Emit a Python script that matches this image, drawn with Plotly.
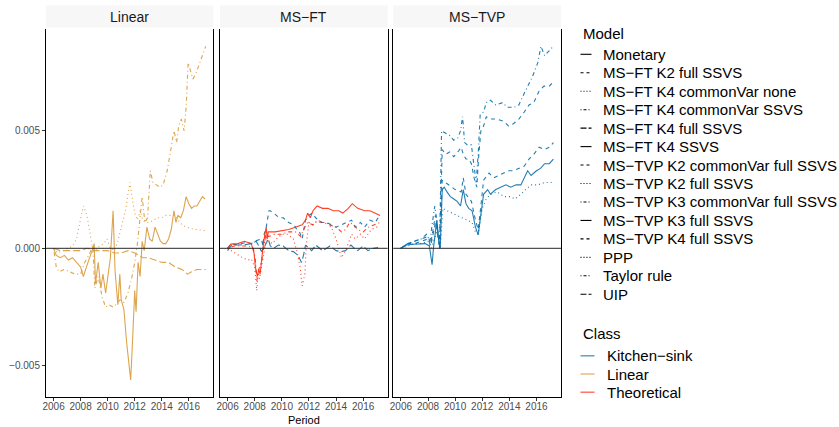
import plotly.graph_objects as go

W, H = 839, 427
FONT = "Liberation Sans, Arial, Helvetica, sans-serif"

PANELS = ["Linear", "MS−FT", "MS−TVP"]
MODELS = ["Monetary", "MS−FT K2 full SSVS", "MS−FT K4 commonVar none",
          "MS−FT K4 commonVar SSVS", "MS−FT K4 full SSVS", "MS−FT K4 SSVS",
          "MS−TVP K2 commonVar full SSVS", "MS−TVP K2 full SSVS",
          "MS−TVP K3 commonVar full SSVS", "MS−TVP K3 full SSVS",
          "MS−TVP K4 full SSVS", "PPP", "Taylor rule", "UIP"]
MODEL_LINETYPES = ["solid", "dashed", "dotted", "dotdash", "longdash", "solid",
                   "dashed", "dotted", "dotdash", "solid", "dashed", "dotted",
                   "dotdash", "longdash"]
CLASSES = ["Kitchen−sink", "Linear", "Theoretical"]
CLASS_COLORS = ["#0A6FA8", "#DA9A3A", "#FF2A10"]
YEAR_TICKS = [2006, 2008, 2010, 2012, 2014, 2016]
Y_TICKS = [-0.005, 0.0, 0.005]
Y_TICK_TEXT = ["−0.005", "0.000", "0.005"]

# ---------------- Linear panel ----------------
lin_monetary_t = [2006.0, 2006.2, 2006.5, 2006.8, 2007.1, 2007.4, 2007.7, 2008.0, 2008.2, 2008.4,
                  2008.6, 2008.85, 2009.0, 2009.1, 2009.3, 2009.5, 2009.65, 2009.85, 2010.0, 2010.2,
                  2010.4, 2010.55, 2010.75, 2010.9, 2011.0, 2011.2, 2011.4, 2011.55, 2011.7, 2011.85,
                  2012.0, 2012.1, 2012.25, 2012.4, 2012.55, 2012.7, 2012.9, 2013.1, 2013.3, 2013.5,
                  2013.7, 2013.9, 2014.1, 2014.3, 2014.5, 2014.7, 2014.9, 2015.05, 2015.2, 2015.4,
                  2015.6, 2015.8, 2016.0, 2016.2, 2016.4, 2016.6, 2016.8, 2017.0, 2017.2]
lin_monetary_v = [0.0, -0.0003, -0.0004, -0.0003, -0.0005, -0.0004, -0.0006, -0.0008, -0.0012, -0.0008,
                  -0.0005, -0.0001, 0.0002, -0.0015, -0.0006, -0.0017, -0.0011, -0.0019, -0.0012, -0.0004,
                  0.0016, -0.0010, -0.0024, -0.0011, -0.0022, -0.0026, -0.0040, -0.0048, -0.0056, -0.0038,
                  -0.0018, -0.0027, -0.0006, -0.0012, 0.0003, -0.0001, 0.0009, 0.0004, 0.0003, 0.0009,
                  0.0006, 0.0003, 0.0002, 0.0002, 0.0004, 0.0008, 0.0016, 0.0011, 0.0014, 0.0013,
                  0.0016, 0.0022, 0.0019, 0.0017, 0.0018, 0.0018, 0.0020, 0.0022, 0.0021]

lin_ppp_t = [2006.0, 2006.3, 2006.7, 2007.0, 2007.4, 2007.7, 2007.9, 2008.05, 2008.2, 2008.35,
             2008.5, 2008.65, 2008.85, 2009.1, 2009.4, 2009.7, 2009.95, 2010.2, 2010.5, 2010.75,
             2010.95, 2011.15, 2011.35, 2011.5, 2011.65, 2011.8, 2012.0, 2012.2, 2012.4, 2012.6,
             2012.8, 2013.1, 2013.4, 2013.7, 2014.0, 2014.3, 2014.6, 2015.0, 2015.2, 2015.5,
             2015.8, 2016.1, 2016.5, 2016.9, 2017.2]
lin_ppp_v = [0.0, -0.0002, -0.0001, 0.0, 0.0001, 0.0004, 0.0009, 0.0014, 0.0018, 0.0016,
             0.0013, 0.0008, 0.0001, -0.0001, 0.0001, 0.0002, 0.0004, 0.0, -0.0001, 0.0003,
             0.0008, 0.0012, 0.0017, 0.0023, 0.0028, 0.0022, 0.0015, 0.0012, 0.0016, 0.0012,
             0.0011, 0.0011, 0.0012, 0.0013, 0.0013, 0.0014, 0.0014, 0.0014, 0.0012, 0.0010,
             0.0009, 0.00085, 0.0008, 0.00078, 0.00075]

lin_taylor_t = [2006.0, 2006.2, 2006.4, 2006.8, 2007.2, 2007.6, 2008.0, 2008.3, 2008.6, 2008.9,
                2009.05, 2009.3, 2009.6, 2009.85, 2010.1, 2010.4, 2010.6, 2010.9, 2011.2, 2011.5,
                2011.8, 2012.0, 2012.2, 2012.4, 2012.55, 2012.75, 2012.95, 2013.15, 2013.35, 2013.6,
                2013.85, 2014.1, 2014.4, 2014.7, 2014.9, 2015.1, 2015.25, 2015.45, 2015.65, 2015.8,
                2015.95, 2016.1, 2016.3, 2016.5, 2016.7, 2016.9, 2017.1, 2017.25]
lin_taylor_v = [0.0, -0.0008, -0.0010, -0.0009, -0.0010, -0.0011, -0.0011, -0.0006, -0.0003, 0.0001,
                -0.0017, -0.0012, -0.0021, -0.0025, -0.0024, -0.0025, -0.0024, -0.0022, -0.0023, -0.0019,
                -0.0012, -0.0006, 0.0002, 0.0014, 0.0022, 0.0011, 0.0013, 0.0033, 0.0028, 0.0027,
                0.0026, 0.0027, 0.0033, 0.0043, 0.0050, 0.0045, 0.0052, 0.0055, 0.0050, 0.0060,
                0.0079, 0.0076, 0.0072, 0.0074, 0.0077, 0.0080, 0.0083, 0.0086]

lin_uip_t = [2006.0, 2006.5, 2007.0, 2007.5, 2008.0, 2008.5, 2009.0, 2009.5, 2010.0, 2010.5,
             2011.0, 2011.5, 2012.0, 2012.3, 2012.6, 2013.0, 2013.5, 2014.0, 2014.5, 2015.0,
             2015.5, 2015.9, 2016.2, 2016.6, 2017.0, 2017.25]
lin_uip_v = [0.0, -0.0001, -0.0001, -0.0001, -0.0001, 0.0, -0.0001, -0.0001, -0.0001, -0.0002,
             -0.0002, -0.0001, -0.0002, -0.0003, -0.0004, -0.0004, -0.0005, -0.0006, -0.0006, -0.0008,
             -0.0009, -0.0011, -0.0010, -0.0009, -0.0009, -0.0009]

# ---------------- MS-FT panel ----------------
ft_k4ssvs_t = [2006.0, 2006.25, 2006.75, 2007.25, 2007.5, 2007.75, 2007.95, 2008.05, 2008.2, 2008.3,
               2008.4, 2008.5, 2008.6, 2008.75, 2008.85, 2008.92, 2009.0, 2009.5, 2010.0, 2010.5,
               2011.0, 2011.5, 2011.75, 2011.9, 2012.1, 2012.3, 2012.6, 2013.0, 2013.4, 2013.8,
               2014.2, 2014.5, 2014.9, 2015.2, 2015.6, 2016.1, 2016.5, 2016.9, 2017.25]
ft_k4ssvs_v = [0.0, 0.00018, 0.0002, 0.0003, 0.00025, 0.0002, -0.0002, -0.0008, -0.0012, -0.0009,
               -0.0011, -0.0005, 0.0, 0.0006, 0.0009, 0.0004, 0.0007, 0.0007, 0.00075, 0.0008,
               0.0009, 0.0010, 0.0012, 0.0015, 0.0013, 0.0016, 0.0018, 0.0017, 0.0017, 0.0016,
               0.0016, 0.0015, 0.0017, 0.0019, 0.0017, 0.0016, 0.0016, 0.0015, 0.0014]

ft_k4cvnone_t = [2006.0, 2006.4, 2006.75, 2007.1, 2007.5, 2007.75, 2008.0, 2008.15, 2008.25, 2008.35,
                 2008.5, 2008.6, 2008.75, 2008.85, 2009.0, 2009.3, 2009.6, 2010.0, 2010.4, 2010.85,
                 2011.1, 2011.35, 2011.5, 2011.7, 2011.8, 2012.0, 2012.25, 2012.5, 2012.9, 2013.3,
                 2013.65, 2014.0, 2014.4, 2014.65, 2014.9, 2015.15, 2015.4, 2015.8, 2016.1, 2016.35,
                 2016.6, 2017.0, 2017.25]
ft_k4cvnone_v = [0.0, -0.00014, -0.0003, -0.0004, -0.0005, -0.00045, -0.0008, -0.0018, -0.0011, -0.0013,
                 -0.0008, -0.0005, 0.0, 0.0005, 0.0003, 0.0002, 0.0004, 0.0006, 0.0006, 0.0004,
                 -0.0001, -0.0008, -0.0016, -0.0011, 0.0001, 0.0011, 0.0010, 0.0011, 0.0011, 0.0011,
                 0.0009, 0.0004, -0.0004, -0.00014, 0.0002, 0.0006, 0.0004, 0.0006, 0.0004, 0.0006,
                 0.0008, 0.0009, 0.0009]

ft_k4cvssvs_t = [2006.0, 2006.5, 2007.0, 2007.5, 2007.9, 2008.05, 2008.15, 2008.3, 2008.5, 2008.7,
                 2008.85, 2009.0, 2009.5, 2010.0, 2010.5, 2011.0, 2011.4, 2011.6, 2011.9, 2012.3,
                 2012.6, 2013.0, 2013.5, 2014.0, 2014.4, 2014.7, 2015.0, 2015.3, 2015.6, 2016.0,
                 2016.4, 2016.8, 2017.25]
ft_k4cvssvs_v = [0.0, 0.0001, 0.0001, 0.0001, 0.0, -0.0005, -0.0014, -0.0009, -0.0006, 0.0002,
                 0.0007, 0.0005, 0.0006, 0.0006, 0.0007, 0.0007, 0.0005, 0.0008, 0.0011, 0.0010,
                 0.0012, 0.0011, 0.0010, 0.0009, 0.0007, 0.0008, 0.0011, 0.0010, 0.0008, 0.0007,
                 0.0009, 0.0010, 0.0011]

ft_k2full_t = [2006.0, 2006.25, 2006.6, 2007.0, 2007.4, 2007.75, 2008.0, 2008.25, 2008.5, 2008.6,
               2008.7, 2008.85, 2009.05, 2009.15, 2009.4, 2009.8, 2010.1, 2010.5, 2010.9, 2011.1,
               2011.3, 2011.5, 2011.75, 2012.0, 2012.25, 2012.5, 2012.9, 2013.3, 2013.65, 2014.0,
               2014.4, 2014.75, 2015.15, 2015.4, 2015.8, 2016.1, 2016.5, 2016.9, 2017.1]
ft_k2full_v = [0.0, 0.0002, 0.00015, 0.0002, 0.00025, 0.0002, 0.0003, 0.00035, 0.0004, 0.0001,
               0.0006, 0.0009, 0.0016, 0.0016, 0.0015, 0.0013, 0.0013, 0.0011, 0.0010, 0.0008,
               0.0007, 0.0004, 0.0012, 0.0014, 0.0015, 0.0013, 0.0011, 0.0011, 0.0010, 0.0009,
               0.0010, 0.0011, 0.0012, 0.0009, 0.0011, 0.0009, 0.0012, 0.0011, 0.0013]

ft_k4full_t = [2006.0, 2006.3, 2006.75, 2007.25, 2007.75, 2008.1, 2008.3, 2008.5, 2008.75, 2009.0,
               2009.15, 2009.4, 2009.75, 2010.1, 2010.5, 2010.85, 2011.2, 2011.45, 2011.6, 2011.75,
               2012.0, 2012.2, 2012.5, 2012.75, 2013.0, 2013.3, 2013.55, 2014.0, 2014.35, 2014.7,
               2015.1, 2015.35, 2015.6, 2016.0, 2016.35, 2016.75, 2017.1]
ft_k4full_v = [-0.0001, 0.00014, 0.00014, 0.00015, 0.0002, 0.0003, 0.0001, -0.00014, 0.0001, 0.0004,
               0.0001, 0.0, 0.00014, 0.0001, -0.0001, -0.00014, -0.0003, -0.0006, -0.0003, 0.00014,
               0.0, -0.0001, 0.00014, 0.0, -0.0001, 0.0, 0.0001, -0.0001, -0.00014, -0.0001,
               0.00014, 0.0, -0.0001, 0.0001, -0.0001, 0.0, 0.00003]

# ---------------- MS-TVP panel ----------------
tvp_k3cv_t = [2006.0, 2006.5, 2007.0, 2007.5, 2007.9, 2008.15, 2008.3, 2008.5, 2008.65, 2008.85,
              2009.0, 2009.3, 2009.6, 2009.9, 2010.2, 2010.4, 2010.55, 2010.7, 2010.9, 2011.2,
              2011.4, 2011.55, 2011.7, 2011.85, 2012.1, 2012.3, 2012.6, 2013.0, 2013.5, 2013.85,
              2014.35, 2014.7, 2015.1, 2015.35, 2015.7, 2016.1, 2016.33, 2016.6, 2016.95, 2017.25]
tvp_k3cv_v = [0.0, 0.0002, 0.0003, 0.0004, 0.0006, 0.0003, 0.0010, 0.0018, 0.0012, 0.0,
              0.0050, 0.0049, 0.0048, 0.0046, 0.0047, 0.0050, 0.0056, 0.0045, 0.0044, 0.0044,
              0.0036, 0.0028, 0.0040, 0.0057, 0.0058, 0.0062, 0.0063, 0.0061, 0.0062, 0.0060,
              0.0060, 0.0061, 0.0066, 0.0069, 0.0073, 0.0079, 0.0086, 0.0082, 0.0084, 0.0086]

tvp_k2cv_t = [2006.0, 2006.5, 2007.0, 2007.5, 2008.0, 2008.2, 2008.4, 2008.55, 2008.7, 2008.85,
              2009.05, 2009.3, 2009.6, 2009.9, 2010.2, 2010.45, 2010.6, 2010.8, 2011.0, 2011.2,
              2011.4, 2011.6, 2011.75, 2011.9, 2012.1, 2012.3, 2012.6, 2013.1, 2013.6, 2013.95,
              2014.3, 2014.7, 2015.1, 2015.45, 2015.8, 2016.2, 2016.55, 2016.95, 2017.25]
tvp_k2cv_v = [0.0, 0.0002, 0.0003, 0.0004, 0.0005, 0.0002, 0.0009, 0.0014, 0.0008, 0.0001,
              0.0042, 0.0040, 0.0041, 0.0039, 0.0041, 0.0043, 0.0040, 0.0038, 0.0038, 0.0036,
              0.0030, 0.0026, 0.0040, 0.0050, 0.0052, 0.0056, 0.0055, 0.0055, 0.0054, 0.0052,
              0.0053, 0.0055, 0.0058, 0.0061, 0.0062, 0.0067, 0.0069, 0.0069, 0.0071]

tvp_k4full_t = [2006.0, 2006.5, 2007.0, 2007.5, 2008.0, 2008.2, 2008.4, 2008.55, 2008.7, 2008.85,
                2009.05, 2009.5, 2010.0, 2010.45, 2010.6, 2010.8, 2011.2, 2011.5, 2011.7, 2011.9,
                2012.1, 2012.5, 2012.85, 2013.2, 2013.6, 2013.95, 2014.3, 2014.7, 2015.1, 2015.45,
                2015.8, 2016.2, 2016.6, 2016.95, 2017.25]
tvp_k4full_v = [0.0, 0.0002, 0.0002, 0.0003, 0.0004, 0.0001, 0.0007, 0.0011, 0.0006, 0.0,
                0.0029, 0.0027, 0.0025, 0.0024, 0.0030, 0.0023, 0.0020, 0.0012, 0.0008, 0.0018,
                0.0029, 0.0032, 0.0030, 0.0031, 0.0032, 0.0033, 0.0033, 0.0034, 0.0035, 0.0038,
                0.0040, 0.0043, 0.0042, 0.0043, 0.0045]

tvp_k3full_t = [2006.0, 2006.4, 2006.9, 2007.4, 2007.8, 2008.1, 2008.24, 2008.3, 2008.4, 2008.5,
                2008.65, 2008.78, 2008.9, 2009.05, 2009.2, 2009.4, 2009.65, 2009.9, 2010.15, 2010.4,
                2010.6, 2010.8, 2011.0, 2011.25, 2011.5, 2011.7, 2011.9, 2012.1, 2012.4, 2012.6,
                2013.0, 2013.4, 2013.75, 2014.1, 2014.5, 2014.85, 2015.2, 2015.35, 2015.6, 2016.0,
                2016.3, 2016.6, 2016.95, 2017.25]
tvp_k3full_v = [0.0, 0.00014, 0.00017, 0.00018, 0.0002, 0.0001, -0.00036, -0.0007, 0.0, 0.0006,
                0.0012, 0.0004, 0.0, 0.0025, 0.0026, 0.0024, 0.0022, 0.0021, 0.0020, 0.0018,
                0.0025, 0.0019, 0.0017, 0.0016, 0.0009, 0.00057, 0.0014, 0.0023, 0.0025, 0.0023,
                0.0025, 0.0026, 0.0027, 0.0026, 0.0027, 0.0027, 0.0031, 0.0033, 0.0031, 0.0033,
                0.0034, 0.0036, 0.0036, 0.0038]

tvp_k2full_t = [2006.0, 2006.5, 2007.0, 2007.5, 2008.0, 2008.25, 2008.5, 2008.7, 2008.9, 2009.1,
                2009.4, 2009.75, 2010.1, 2010.5, 2010.9, 2011.25, 2011.5, 2011.7, 2012.0, 2012.3,
                2012.6, 2013.1, 2013.6, 2014.1, 2014.4, 2014.85, 2015.2, 2015.6, 2016.1, 2016.6,
                2017.25]
tvp_k2full_v = [0.0, 0.0001, 0.0002, 0.0002, 0.0003, 0.0, 0.0005, 0.0008, 0.0, 0.0017,
                0.0016, 0.0015, 0.0014, 0.0013, 0.0012, 0.0011, 0.0007, 0.0006, 0.0017, 0.0021,
                0.0023, 0.0024, 0.0022, 0.0022, 0.0021, 0.0023, 0.0025, 0.0027, 0.0027, 0.0028,
                0.0028]

# (panel index, model, class, periods, values)
SERIES = [
    (0, "Monetary", "Linear", lin_monetary_t, lin_monetary_v),
    (0, "PPP", "Linear", lin_ppp_t, lin_ppp_v),
    (0, "Taylor rule", "Linear", lin_taylor_t, lin_taylor_v),
    (0, "UIP", "Linear", lin_uip_t, lin_uip_v),
    (1, "MS−FT K2 full SSVS", "Kitchen−sink", ft_k2full_t, ft_k2full_v),
    (1, "MS−FT K4 full SSVS", "Kitchen−sink", ft_k4full_t, ft_k4full_v),
    (1, "MS−FT K4 commonVar none", "Theoretical", ft_k4cvnone_t, ft_k4cvnone_v),
    (1, "MS−FT K4 commonVar SSVS", "Theoretical", ft_k4cvssvs_t, ft_k4cvssvs_v),
    (1, "MS−FT K4 SSVS", "Theoretical", ft_k4ssvs_t, ft_k4ssvs_v),
    (2, "MS−TVP K2 commonVar full SSVS", "Kitchen−sink", tvp_k2cv_t, tvp_k2cv_v),
    (2, "MS−TVP K2 full SSVS", "Kitchen−sink", tvp_k2full_t, tvp_k2full_v),
    (2, "MS−TVP K3 commonVar full SSVS", "Kitchen−sink", tvp_k3cv_t, tvp_k3cv_v),
    (2, "MS−TVP K4 full SSVS", "Kitchen−sink", tvp_k4full_t, tvp_k4full_v),
    (2, "MS−TVP K3 full SSVS", "Kitchen−sink", tvp_k3full_t, tvp_k3full_v),
]

DASH = {"solid": "solid", "dashed": "4px,4px", "dotted": "1px,3px",
        "dotdash": "1px,3px,4px,3px", "longdash": "7px,3px"}
KEY_DASH = {"solid": "solid", "dashed": "3px,3px", "dotted": "1px,2px",
            "dotdash": "1px,2px,3px,2px", "longdash": "6px,2px"}

# layout geometry (pixels)
PANEL_X = [(46.0, 213.3), (220.0, 387.7), (393.3, 561.0)]
PANEL_TOP, PANEL_BOTTOM = 29.3, 397.3
X_RANGE = [2005.44, 2017.81]
Y_RANGE = [-0.00634, 0.00932]


def px(x):
    return x / W


def py(y):
    return 1 - y / H


fig = go.Figure()
for panel, model, cls, t, v in SERIES:
    lt = MODEL_LINETYPES[MODELS.index(model)]
    col = CLASS_COLORS[CLASSES.index(cls)]
    sfx = "" if panel == 0 else str(panel + 1)
    fig.add_trace(go.Scatter(
        x=t, y=v, mode="lines", name=model, showlegend=False,
        xaxis="x" + sfx, yaxis="y" + sfx, opacity=0.9,
        line=dict(color=col, width=1.1, dash=DASH[lt]),
        hoverinfo="skip"))

layout = dict(width=W, height=H, margin=dict(l=0, r=0, t=0, b=0),
              paper_bgcolor="white", plot_bgcolor="white", showlegend=False,
              font=dict(family=FONT, color="#1A1A1A"), hovermode=False)
shapes, annotations = [], []
for i, (x0, x1) in enumerate(PANEL_X):
    sfx = "" if i == 0 else str(i + 1)
    layout["xaxis" + sfx] = dict(
        domain=[px(x0), px(x1)], range=X_RANGE, anchor="y" + sfx,
        tickvals=YEAR_TICKS, ticktext=[str(y) for y in YEAR_TICKS],
        showline=True, linecolor="black", linewidth=1, mirror=False,
        ticks="outside", ticklen=3, tickcolor="#333333", tickwidth=1,
        ticklabelstandoff=-3,
        tickfont=dict(size=10, color="#4D4D4D", family=FONT),
        showgrid=False, zeroline=False, automargin=False)
    layout["yaxis" + sfx] = dict(
        domain=[py(PANEL_BOTTOM), py(PANEL_TOP)], range=Y_RANGE, anchor="x" + sfx,
        tickvals=Y_TICKS, ticktext=Y_TICK_TEXT, showticklabels=(i == 0),
        ticks="outside" if i == 0 else "", ticklen=3, tickcolor="#333333",
        tickfont=dict(size=10, color="#4D4D4D", family=FONT),
        showline=True, linecolor="black", linewidth=1, mirror=True,
        showgrid=False, zeroline=False, automargin=False)
    # zero reference line
    shapes.append(dict(type="line", xref="x%s domain" % sfx, yref="y" + sfx,
                       x0=0, x1=1, y0=0, y1=0, layer="above",
                       line=dict(color="#262626", width=1)))
    # strip
    shapes.append(dict(type="rect", xref="paper", yref="paper",
                       x0=px(x0), x1=px(x1), y0=py(27.5), y1=py(5.5),
                       fillcolor="#F7F7F7", line=dict(width=0), layer="below"))
    annotations.append(dict(text=PANELS[i], xref="paper", yref="paper",
                            x=px((x0 + x1) / 2), y=py(17), showarrow=False,
                            xanchor="center", yanchor="middle",
                            font=dict(size=14, color="#1A1A1A", family=FONT)))

annotations.append(dict(text="Period", xref="paper", yref="paper",
                        x=px((PANEL_X[1][0] + PANEL_X[1][1]) / 2), y=py(420),
                        showarrow=False, xanchor="center", yanchor="middle",
                        font=dict(size=11, color="#000000", family=FONT)))

# ---- legends ----
LEG_X = 580.5
KEY_W = 11
TXT_X = 600.5
annotations.append(dict(text="Model", xref="paper", yref="paper", x=px(LEG_X), y=py(33.5),
                        showarrow=False, xanchor="left", yanchor="middle",
                        font=dict(size=15, color="#000000", family=FONT)))
for k, model in enumerate(MODELS):
    yy = 54.3 + k * 18.46
    lt = MODEL_LINETYPES[k]
    shapes.append(dict(type="line", xref="paper", yref="paper",
                       x0=px(LEG_X), x1=px(LEG_X + KEY_W), y0=py(yy), y1=py(yy),
                       line=dict(color="black", width=1.1, dash=KEY_DASH[lt])))
    annotations.append(dict(text=model, xref="paper", yref="paper", x=px(TXT_X), y=py(yy),
                            showarrow=False, xanchor="left", yanchor="middle",
                            font=dict(size=15, color="#000000", family=FONT)))

annotations.append(dict(text="Class", xref="paper", yref="paper", x=px(LEG_X), y=py(333.5),
                        showarrow=False, xanchor="left", yanchor="middle",
                        font=dict(size=15, color="#000000", family=FONT)))
for k, cls in enumerate(CLASSES):
    yy = 355.8 + k * 18.2
    shapes.append(dict(type="line", xref="paper", yref="paper",
                       x0=px(LEG_X), x1=px(LEG_X + 14), y0=py(yy), y1=py(yy),
                       opacity=0.75,
                       line=dict(color=CLASS_COLORS[k], width=1.3)))
    annotations.append(dict(text=cls, xref="paper", yref="paper", x=px(TXT_X + 4), y=py(yy),
                            showarrow=False, xanchor="left", yanchor="middle",
                            font=dict(size=15, color="#000000", family=FONT)))

layout["shapes"] = shapes
layout["annotations"] = annotations
fig.update_layout(**layout)
fig.write_html("out.html", config={"displayModeBar": False, "staticPlot": True},
               post_script="document.body.style.margin='0';document.body.style.overflow='hidden';")
